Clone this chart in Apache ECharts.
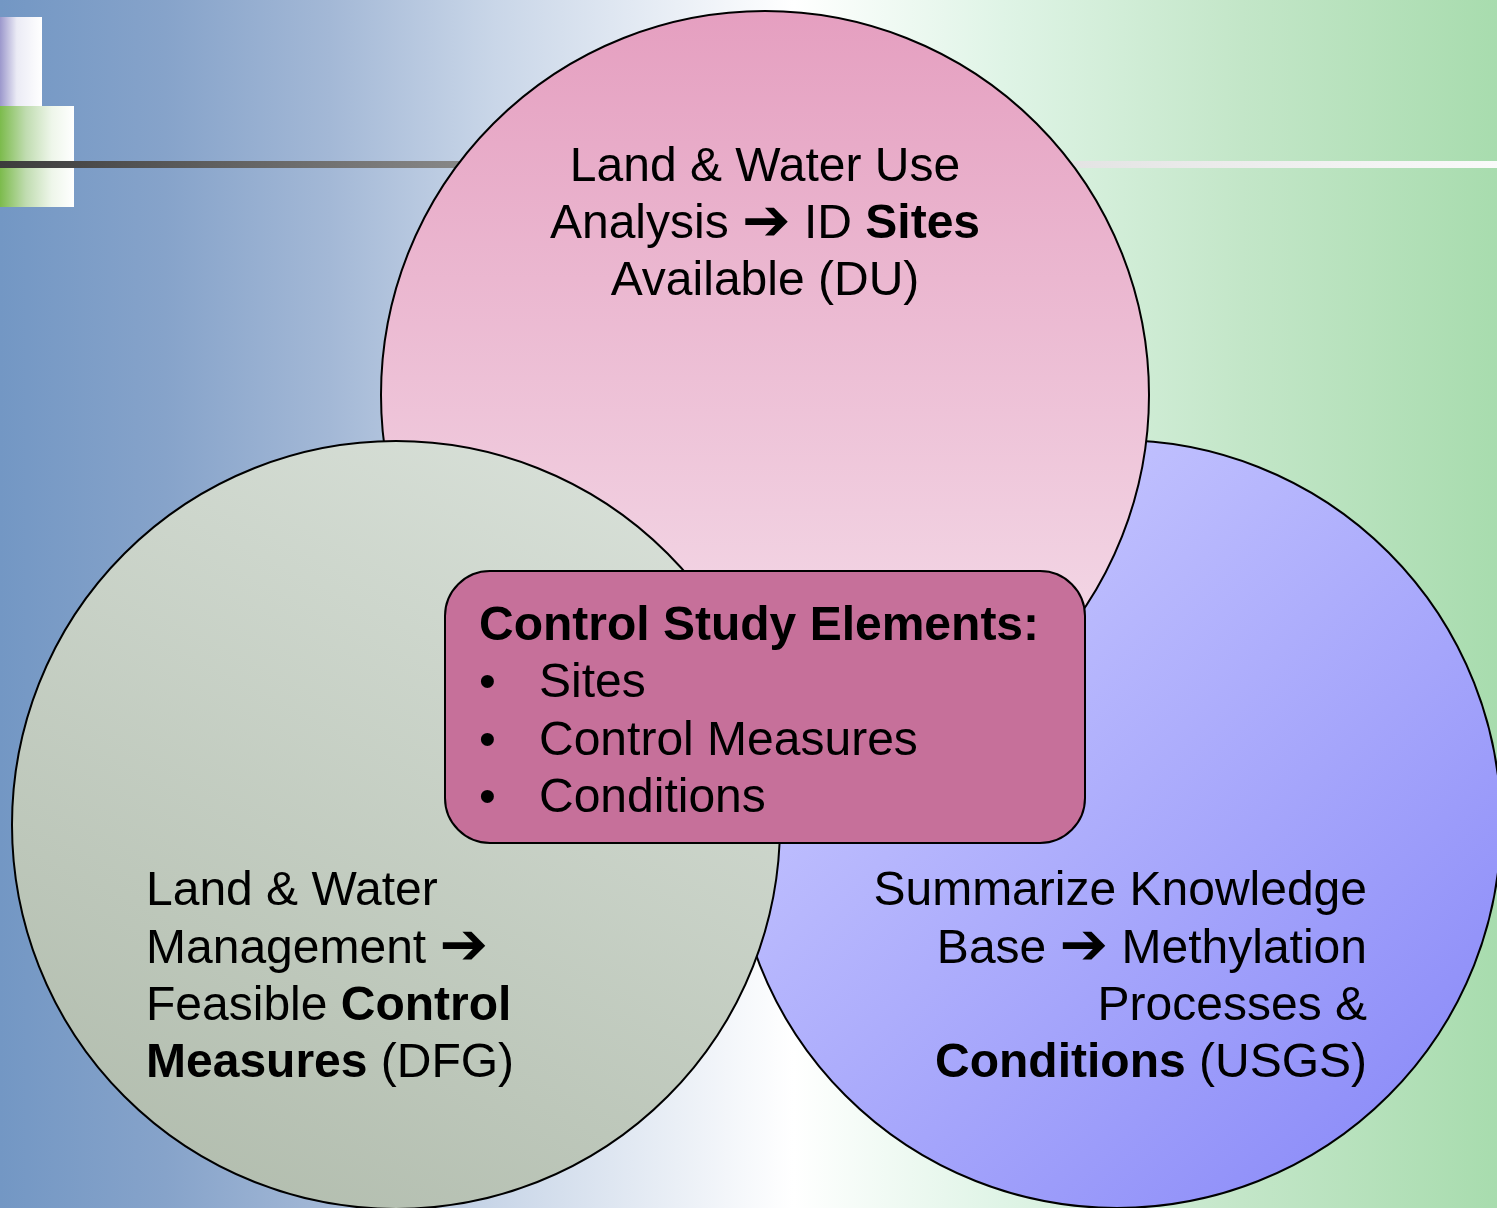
<!DOCTYPE html>
<html><head><meta charset="utf-8">
<style>html,body{margin:0;padding:0;overflow:hidden;background:#fff}#chart{width:1497px;height:1208px}</style>
<script src="https://cdn.jsdelivr.net/npm/echarts@6/dist/echarts.min.js"></script>
</head><body><div id="chart"></div>
<script>
// ---- data ----
const setNames = ['DU', 'DFG', 'USGS'];
const setCenterX = [765, 396, 1117];
const setCenterY = [395, 825, 824];
const setDiameter = [768, 768, 768];
const drawOrder = [2, 0, 1]; // USGS at bottom, DU, DFG on top

const topLines = ['Land & Water Use', 'Analysis {a|\u2794} ID {b|Sites}', 'Available (DU)'];
const leftLines = ['Land & Water', 'Management {a|\u2794}', 'Feasible {b|Control}', '{b|Measures} (DFG)'];
const rightLines = ['Summarize Knowledge', 'Base {a|\u2794} Methylation', 'Processes &', '{b|Conditions} (USGS)'];
const boxTitle = 'Control Study Elements:';
const boxItems = ['Sites', 'Control Measures', 'Conditions'];

// ---- styles ----
const LG = echarts.graphic.LinearGradient;
const FONT = '"Liberation Sans", Arial, "DejaVu Sans", sans-serif';
const FS = 48;
const LH = 57.3;
const DY = 3;
const fills = {
  DU: new LG(0, 0, 0, 1, [{offset: 0, color: '#e59fc0'}, {offset: 1, color: '#f6e4ee'}]),
  DFG: new LG(0.75, 0, 0.25, 1, [{offset: 0, color: '#d8e0d8'}, {offset: 1, color: '#b2bdae'}]),
  USGS: new LG(0.15, 0.15, 0.9, 0.95, [{offset: 0, color: '#c8c8ff'}, {offset: 1, color: '#8a8af8'}])
};
const rich = {
  b: {fontFamily: FONT, fontSize: FS, fontWeight: 'bold', fill: '#000', lineHeight: LH},
  a: {fontFamily: '"DejaVu Sans", sans-serif', fontSize: 58, fontWeight: 'bold', fill: '#000', lineHeight: LH}
};

function textEl(str, x, y, align, bold) {
  return {
    type: 'text', x: x, y: y + DY, z: 30, silent: true,
    style: {text: str, fontFamily: FONT, fontSize: FS, fontWeight: bold ? 'bold' : 'normal',
      fill: '#000', align: align, verticalAlign: 'middle', lineHeight: LH, rich: rich}
  };
}

const graphics = [
  {type: 'rect', z: 0, silent: true, shape: {x: 0, y: 0, width: 1497, height: 1208},
    style: {fill: new LG(0, 0, 1, 0, [
      {offset: 0, color: '#7397c4'}, {offset: 0.11, color: '#86a3ca'}, {offset: 0.22, color: '#a3b8d6'},
      {offset: 0.33, color: '#c9d6e8'}, {offset: 0.53, color: '#ffffff'}, {offset: 0.67, color: '#dff4e6'},
      {offset: 0.83, color: '#c3e6c8'}, {offset: 1, color: '#a8dcae'}])}},
  {type: 'rect', z: 1, silent: true, shape: {x: 0, y: 17, width: 42, height: 89},
    style: {fill: new LG(0, 0, 1, 0, [{offset: 0, color: '#9c98cc'}, {offset: 0.4, color: '#ebebf5'}, {offset: 1, color: '#ffffff'}])}},
  {type: 'rect', z: 1, silent: true, shape: {x: 0, y: 106, width: 74, height: 101},
    style: {fill: new LG(0, 0, 1, 0, [{offset: 0, color: '#7cbb4c'}, {offset: 0.35, color: '#c0dcb0'}, {offset: 0.7, color: '#eef6ea'}, {offset: 1, color: '#ffffff'}])}},
  {type: 'rect', z: 1, silent: true, shape: {x: 0, y: 161, width: 1497, height: 7},
    style: {fill: new LG(0, 0, 1, 0, [{offset: 0, color: '#3c3c3c'}, {offset: 0.31, color: '#888888'}, {offset: 0.72, color: '#e4e4e4'}, {offset: 1, color: '#fafafa'}])}},
  {type: 'rect', z: 20, silent: true, shape: {x: 445, y: 571, width: 640, height: 272, r: 45},
    style: {fill: '#c6709a', stroke: '#000', lineWidth: 2}}
];
topLines.forEach((s, i) => graphics.push(textEl(s, 765, 164.5 + i * LH, 'center')));
leftLines.forEach((s, i) => graphics.push(textEl(s, 146, 889 + i * LH, 'left')));
rightLines.forEach((s, i) => graphics.push(textEl(s, 1367, 889 + i * LH, 'right')));
graphics.push(textEl(boxTitle, 479, 624, 'left', true));
boxItems.forEach((s, i) => {
  graphics.push(textEl('\u2022', 479, 681 + i * LH, 'left'));
  graphics.push(textEl(s, 539, 681 + i * LH, 'left'));
});

const series = drawOrder.map((k, j) => ({
  type: 'scatter', name: setNames[k], z: 3 + j, silent: true, animation: false,
  symbol: 'circle', symbolSize: setDiameter[k],
  itemStyle: {color: fills[setNames[k]], borderColor: '#000', borderWidth: 2, opacity: 1},
  emphasis: {disabled: true},
  data: [[setCenterX[k], setCenterY[k]]]
}));

const chart = echarts.init(document.getElementById('chart'), null, {renderer: 'canvas'});
chart.setOption({
  animation: false,
  grid: {left: 0, right: 0, top: 0, bottom: 0},
  xAxis: {type: 'value', min: 0, max: 1497, show: false},
  yAxis: {type: 'value', min: 0, max: 1208, inverse: true, show: false},
  graphic: graphics,
  series: series
});
</script></body></html>
